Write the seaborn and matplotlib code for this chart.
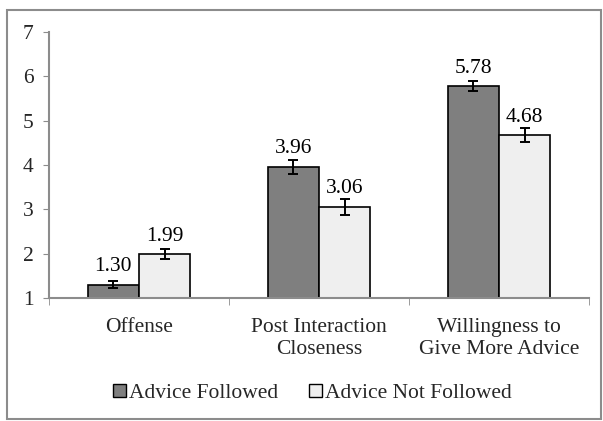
import matplotlib
matplotlib.use("Agg")
import matplotlib.pyplot as plt
import matplotlib.patches as mpatches
import seaborn as sns
import pandas as pd
import numpy as np

categories = ["Offense", "Post Interaction\nCloseness", "Willingness to\nGive More Advice"]
groups = ["Advice Followed", "Advice Not Followed"]
followed = [1.30, 3.96, 5.78]
not_followed = [1.99, 3.06, 4.68]
followed_err = [0.075, 0.16, 0.11]
not_followed_err = [0.12, 0.18, 0.16]
value_labels_followed = ["1.30", "3.96", "5.78"]
value_labels_not = ["1.99", "3.06", "4.68"]

colors = {"Advice Followed": "#7f7f7f", "Advice Not Followed": "#efefef"}

df = pd.DataFrame({
    "category": categories * 2,
    "group": [groups[0]] * 3 + [groups[1]] * 3,
    "value": followed + not_followed,
})

sns.set_style("white")
plt.rcParams["font.family"] = ["Liberation Serif", "DejaVu Serif"]
FS = 15.5

fig = plt.figure(figsize=(6.03, 4.21), dpi=100)
ax = fig.add_axes([0.081, 0.292, 0.896, 0.632])

sns.barplot(data=df, x="category", y="value", hue="group", palette=colors,
            order=categories, hue_order=groups, width=0.57, errorbar=None,
            edgecolor="black", linewidth=1.2, ax=ax, legend=False)

# error bars and value labels on top of each bar
errs = [followed_err, not_followed_err]
labels = [value_labels_followed, value_labels_not]
vals = [followed, not_followed]
bar_containers = list(ax.containers)
for gi, cont in enumerate(bar_containers):
    for bi, bar in enumerate(cont.patches):
        xc = bar.get_x() + bar.get_width() / 2
        ax.errorbar(xc, vals[gi][bi], yerr=errs[gi][bi], fmt="none",
                    ecolor="black", elinewidth=1.4, capsize=3.5, capthick=1.4)
        ax.annotate(labels[gi][bi], (xc, vals[gi][bi]), xytext=(0, 6),
                    textcoords="offset points", ha="center", va="bottom",
                    fontsize=FS, color="black")

ax.set_ylim(1, 7)
ax.set_xlim(-0.5, 2.5)
ax.set_yticks(range(1, 8))
ax.set_xlabel("")
ax.set_ylabel("")
ax.tick_params(axis="y", labelsize=FS, length=4, color="#8c8c8c", direction="out", left=True, pad=7)
ax.set_xticks([0, 1, 2])
ax.set_xticklabels(categories, fontsize=FS, linespacing=1.25)
ax.tick_params(axis="x", length=0, pad=14)
ax.set_xticks([-0.5, 0.5, 1.5, 2.5], minor=True)
ax.tick_params(axis="x", which="minor", length=5, color="#8c8c8c", direction="out", bottom=True)

for s in ["top", "right"]:
    ax.spines[s].set_visible(False)
for s in ["left", "bottom"]:
    ax.spines[s].set_color("#8c8c8c")
    ax.spines[s].set_linewidth(1.5)

handles = [mpatches.Patch(facecolor=colors[g], edgecolor="black", linewidth=1.0, label=g) for g in groups]
fig.legend(handles=handles, loc="center", bbox_to_anchor=(0.518, 0.066), ncol=2, frameon=False,
           fontsize=FS, handlelength=0.6, handleheight=0.6, handletextpad=0.15, columnspacing=1.4)

# outer frame
fig.patches.append(mpatches.Rectangle((0.012, 0.004), 0.984, 0.972, transform=fig.transFigure,
                                      fill=False, edgecolor="#8c8c8c", linewidth=1.5))

fig.savefig("out.png", dpi=100)
